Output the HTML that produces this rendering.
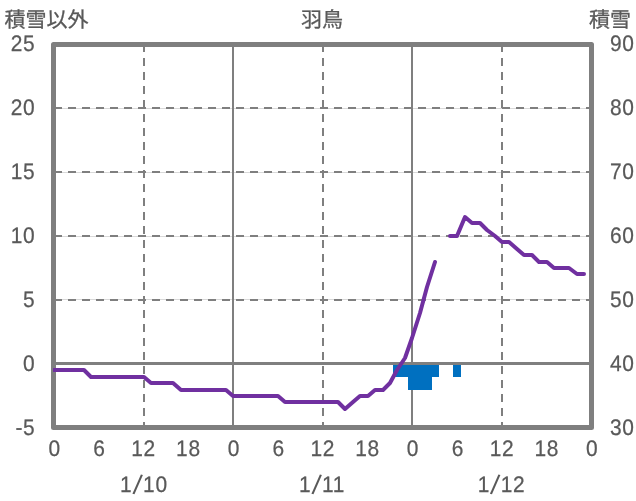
<!DOCTYPE html>
<html lang="ja">
<head>
<meta charset="utf-8">
<title>羽鳥</title>
<style>
html,body{margin:0;padding:0;background:#fff;}
body{width:636px;height:501px;overflow:hidden;}
svg{display:block;}
text{font-family:"Liberation Sans", "Noto Sans CJK JP", sans-serif;fill:#595959;text-rendering:geometricPrecision;}
.n{font-size:22.5px;letter-spacing:0.72px;stroke:#595959;stroke-width:0.25px;}
.sl{font-size:28px;stroke:none;}
.t{font-size:21px;stroke:#595959;stroke-width:0.3px;}
</style>
</head>
<body>
<svg width="636" height="501" viewBox="0 0 636 501">
<rect x="0" y="0" width="636" height="501" fill="#ffffff"/>
<line x1="54" y1="108.5" x2="591" y2="108.5" stroke="#d9d9d9" stroke-width="1"/>
<line x1="54" y1="172.5" x2="591" y2="172.5" stroke="#d9d9d9" stroke-width="1"/>
<line x1="54" y1="236.5" x2="591" y2="236.5" stroke="#d9d9d9" stroke-width="1"/>
<line x1="54" y1="299.5" x2="591" y2="299.5" stroke="#d9d9d9" stroke-width="1"/>
<line x1="54" y1="108" x2="591" y2="108" stroke="#7f7f7f" stroke-width="2" stroke-dasharray="8 6"/>
<line x1="54" y1="172" x2="591" y2="172" stroke="#7f7f7f" stroke-width="2" stroke-dasharray="8 6"/>
<line x1="54" y1="236" x2="591" y2="236" stroke="#7f7f7f" stroke-width="2" stroke-dasharray="8 6"/>
<line x1="54" y1="300" x2="591" y2="300" stroke="#7f7f7f" stroke-width="2" stroke-dasharray="8 6"/>
<line x1="144" y1="44" x2="144" y2="428" stroke="#7f7f7f" stroke-width="2" stroke-dasharray="8 6"/>
<line x1="233" y1="44" x2="233" y2="428" stroke="#7f7f7f" stroke-width="2"/>
<line x1="323" y1="44" x2="323" y2="428" stroke="#7f7f7f" stroke-width="2" stroke-dasharray="8 6"/>
<line x1="412" y1="44" x2="412" y2="428" stroke="#7f7f7f" stroke-width="2"/>
<line x1="502" y1="44" x2="502" y2="428" stroke="#7f7f7f" stroke-width="2" stroke-dasharray="8 6"/>
<g fill="#0070c0">
<rect x="393" y="364" width="46" height="13"/>
<rect x="408" y="364" width="24" height="26"/>
<rect x="453" y="364" width="8" height="13"/>
</g>
<line x1="54" y1="363.5" x2="591" y2="363.5" stroke="#7f7f7f" stroke-width="3"/>
<rect x="53.5" y="44.5" width="538" height="383" fill="none" stroke="#7f7f7f" stroke-width="5" stroke-linejoin="round"/>
<clipPath id="pc"><rect x="53" y="44" width="539" height="384"/></clipPath>
<g clip-path="url(#pc)" fill="none" stroke="#7030a0" stroke-width="4" stroke-linejoin="round" stroke-linecap="round">
<path d="M54,370 L61,370 L69,370 L76,370 L84,370 L91,377 L99,377 L106,377 L114,377 L121,377 L129,377 L136,377 L144,377 L151,383 L159,383 L166,383 L173,383 L181,390 L188,390 L196,390 L203,390 L211,390 L218,390 L226,390 L233,396 L241,396 L248,396 L256,396 L263,396 L271,396 L278,396 L285,402 L293,402 L300,402 L308,402 L315,402 L323,402 L330,402 L338,402 L345,409 L353,402 L360,396 L368,396 L375,390 L383,390 L390,383 L397,370 L405,358 L412,338 L420,313 L427,287 L435,262"/>
<path d="M450,236 L457,236 L465,217 L472,223 L480,223 L487,230 L495,236 L502,242 L509,242 L517,249 L524,255 L532,255 L539,262 L547,262 L554,268 L562,268 L569,268 L577,274 L584,274"/>
</g>
<text class="t" x="4.4" y="27">積雪以外</text>
<text class="t" x="322" y="27" text-anchor="middle">羽鳥</text>
<text class="t" x="589" y="27">積雪</text>
<text class="n" transform="translate(35.40,51.00) scale(0.93,1)" text-anchor="end">25</text>
<text class="n" transform="translate(35.40,115.00) scale(0.93,1)" text-anchor="end">20</text>
<text class="n" transform="translate(35.40,179.00) scale(0.93,1)" text-anchor="end">15</text>
<text class="n" transform="translate(35.40,243.00) scale(0.93,1)" text-anchor="end">10</text>
<text class="n" transform="translate(35.40,307.00) scale(0.93,1)" text-anchor="end">5</text>
<text class="n" transform="translate(35.40,371.00) scale(0.93,1)" text-anchor="end">0</text>
<text class="n" transform="translate(35.40,435.00) scale(0.93,1)" text-anchor="end">-5</text>
<text class="n" transform="translate(610.00,51.00) scale(0.93,1)">90</text>
<text class="n" transform="translate(610.00,115.00) scale(0.93,1)">80</text>
<text class="n" transform="translate(610.00,179.00) scale(0.93,1)">70</text>
<text class="n" transform="translate(610.00,243.00) scale(0.93,1)">60</text>
<text class="n" transform="translate(610.00,307.00) scale(0.93,1)">50</text>
<text class="n" transform="translate(610.00,371.00) scale(0.93,1)">40</text>
<text class="n" transform="translate(610.00,435.00) scale(0.93,1)">30</text>
<text class="n" transform="translate(54.60,456.00) scale(0.93,1)" text-anchor="middle">0</text>
<text class="n" transform="translate(99.40,456.00) scale(0.93,1)" text-anchor="middle">6</text>
<text class="n" transform="translate(143.60,456.00) scale(0.93,1)" text-anchor="middle">12</text>
<text class="n" transform="translate(188.40,456.00) scale(0.93,1)" text-anchor="middle">18</text>
<text class="n" transform="translate(233.80,456.00) scale(0.93,1)" text-anchor="middle">0</text>
<text class="n" transform="translate(278.60,456.00) scale(0.93,1)" text-anchor="middle">6</text>
<text class="n" transform="translate(322.80,456.00) scale(0.93,1)" text-anchor="middle">12</text>
<text class="n" transform="translate(367.60,456.00) scale(0.93,1)" text-anchor="middle">18</text>
<text class="n" transform="translate(413.00,456.00) scale(0.93,1)" text-anchor="middle">0</text>
<text class="n" transform="translate(457.80,456.00) scale(0.93,1)" text-anchor="middle">6</text>
<text class="n" transform="translate(502.00,456.00) scale(0.93,1)" text-anchor="middle">12</text>
<text class="n" transform="translate(546.80,456.00) scale(0.93,1)" text-anchor="middle">18</text>
<text class="n" transform="translate(592.20,456.00) scale(0.93,1)" text-anchor="middle">0</text>
<text class="n" transform="translate(120.10,492.00) scale(0.93,1)">1<tspan class="sl" dx="0" dy="1.4" rotate="10">/</tspan><tspan dx="3.0" dy="-1.4" rotate="0">10</tspan></text>
<text class="n" transform="translate(299.10,492.00) scale(0.93,1)">1<tspan class="sl" dx="0" dy="1.4" rotate="10">/</tspan><tspan dx="3.0" dy="-1.4" rotate="0">11</tspan></text>
<text class="n" transform="translate(477.80,492.00) scale(0.93,1)">1<tspan class="sl" dx="0" dy="1.4" rotate="10">/</tspan><tspan dx="3.0" dy="-1.4" rotate="0">12</tspan></text>
</svg>
</body>
</html>
